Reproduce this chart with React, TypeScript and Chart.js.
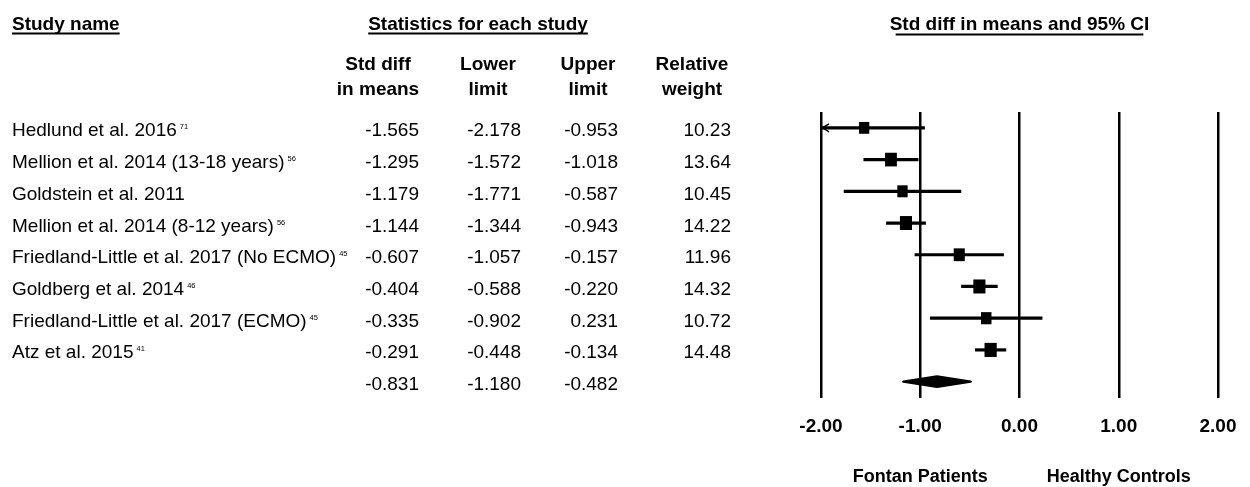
import React, { useEffect, useRef } from "react";
import { Chart, registerables } from "chart.js";

Chart.register(...registerables);

const studies = [
  "Hedlund et al. 2016",
  "Mellion et al. 2014 (13-18 years)",
  "Goldstein et al. 2011",
  "Mellion et al. 2014 (8-12 years)",
  "Friedland-Little et al. 2017 (No ECMO)",
  "Goldberg et al. 2014",
  "Friedland-Little et al. 2017 (ECMO)",
  "Atz et al. 2015",
];
const refs = ["71", "56", "", "56", "45", "46", "45", "41"];
const stdDiff = [-1.565, -1.295, -1.179, -1.144, -0.607, -0.404, -0.335, -0.291];
const lowerLimit = [-2.178, -1.572, -1.771, -1.344, -1.057, -0.588, -0.902, -0.448];
const upperLimit = [-0.953, -1.018, -0.587, -0.943, -0.157, -0.22, 0.231, -0.134];
const relWeight = [10.23, 13.64, 10.45, 14.22, 11.96, 14.32, 10.72, 14.48];
const summaryStats = [-0.831, -1.18, -0.482]; // mean, lower, upper
const xTicks = [-2, -1, 0, 1, 2];
const sideLabels = ["Fontan Patients", "Healthy Controls"];

const FONT = "'Liberation Sans', Arial, sans-serif";

const forestPlugin = {
  id: "forest",
  beforeDatasetsDraw(chart: any) {
    const { ctx } = chart;
    const x = chart.scales.x;
    const y = chart.scales.y;
    ctx.save();
    ctx.strokeStyle = "#000";
    ctx.fillStyle = "#000";
    studies.forEach((_, i) => {
      const py = y.getPixelForValue(i);
      const lo = Math.max(lowerLimit[i], x.min);
      const hi = Math.min(upperLimit[i], x.max);
      const x1 = x.getPixelForValue(lo);
      const x2 = x.getPixelForValue(hi);
      ctx.lineWidth = 3.2;
      ctx.beginPath();
      ctx.moveTo(x1, py);
      ctx.lineTo(x2, py);
      ctx.stroke();
      if (lowerLimit[i] < x.min) {
        ctx.lineWidth = 1.5;
        ctx.beginPath();
        ctx.moveTo(x1 + 8, py - 4);
        ctx.lineTo(x1 + 1.5, py);
        ctx.lineTo(x1 + 8, py + 4);
        ctx.stroke();
      }
    });
    // summary diamond
    const sy = y.getPixelForValue(studies.length);
    const xm = x.getPixelForValue(summaryStats[0]);
    const xl = x.getPixelForValue(summaryStats[1]);
    const xu = x.getPixelForValue(summaryStats[2]);
    ctx.lineWidth = 2.5;
    ctx.lineJoin = "round";
    ctx.beginPath();
    ctx.moveTo(xl + 1, sy);
    ctx.lineTo(xm, sy - 5.2);
    ctx.lineTo(xu - 1, sy);
    ctx.lineTo(xm, sy + 5.2);
    ctx.closePath();
    ctx.fill();
    ctx.stroke();
    ctx.restore();
  },
  afterDatasetsDraw(chart: any) {
    const { ctx } = chart;
    const meta = chart.getDatasetMeta(0);
    ctx.save();
    ctx.fillStyle = "#000";
    meta.data.forEach((pt: any, i: number) => {
      const s = Math.sqrt(relWeight[i]);
      const w = 3.2 * s;
      const h = 3.7 * s;
      ctx.fillRect(pt.x - w / 2, pt.y - h / 2, w, h);
    });
    ctx.restore();
  },
  afterDraw(chart: any) {
    const { ctx } = chart;
    const x = chart.scales.x;
    const y = chart.scales.y;
    ctx.save();
    ctx.fillStyle = "#000";
    ctx.strokeStyle = "#000";
    ctx.textBaseline = "alphabetic";

    // Titles
    ctx.font = `bold 19px ${FONT}`;
    ctx.textAlign = "left";
    ctx.fillText("Study name", 12, 29.5);
    let w = ctx.measureText("Study name").width;
    ctx.lineWidth = 2;
    ctx.beginPath();
    ctx.moveTo(12, 33.5);
    ctx.lineTo(12 + w, 33.5);
    ctx.stroke();

    ctx.textAlign = "center";
    const t2 = "Statistics for each study";
    ctx.fillText(t2, 478, 29.5);
    w = ctx.measureText(t2).width;
    ctx.beginPath();
    ctx.moveTo(478 - w / 2, 33.5);
    ctx.lineTo(478 + w / 2, 33.5);
    ctx.stroke();

    const t3 = "Std diff in means and 95% CI";
    const cx3 = (x.left + x.right) / 2;
    ctx.fillText(t3, cx3, 29.5);
    w = ctx.measureText(t3).width;
    ctx.beginPath();
    ctx.moveTo(cx3 - w / 2 + 6, 34.5);
    ctx.lineTo(cx3 + w / 2 - 6, 34.5);
    ctx.stroke();

    // column headers
    const headers: [string, string, number][] = [
      ["Std diff", "in means", 378],
      ["Lower", "limit", 488],
      ["Upper", "limit", 588],
      ["Relative", "weight", 692],
    ];
    headers.forEach(([a, b, cx]) => {
      ctx.fillText(a, cx, 69.5);
      ctx.fillText(b, cx, 94.5);
    });

    // rows
    const colRight = [419, 521, 618, 731];
    studies.forEach((name, i) => {
      const base = y.getPixelForValue(i) + 8.5;
      ctx.font = `19px ${FONT}`;
      ctx.textAlign = "left";
      ctx.fillText(name, 12, base);
      const nw = ctx.measureText(name).width;
      ctx.textAlign = "right";
      ctx.fillText(stdDiff[i].toFixed(3), colRight[0], base);
      ctx.fillText(lowerLimit[i].toFixed(3), colRight[1], base);
      ctx.fillText(upperLimit[i].toFixed(3), colRight[2], base);
      ctx.fillText(relWeight[i].toFixed(2), colRight[3], base);
      if (refs[i]) {
        ctx.font = `7.5px ${FONT}`;
        ctx.textAlign = "left";
        ctx.fillText(refs[i], 12 + nw + 3, base - 7);
      }
    });
    const sb = y.getPixelForValue(studies.length) + 8.5;
    ctx.font = `19px ${FONT}`;
    ctx.textAlign = "right";
    ctx.fillText(summaryStats[0].toFixed(3), colRight[0], sb);
    ctx.fillText(summaryStats[1].toFixed(3), colRight[1], sb);
    ctx.fillText(summaryStats[2].toFixed(3), colRight[2], sb);

    // favours labels
    ctx.font = `bold 18px ${FONT}`;
    ctx.textAlign = "center";
    ctx.fillText(sideLabels[0], x.getPixelForValue(-1), 481.5);
    ctx.fillText(sideLabels[1], x.getPixelForValue(1), 481.5);
    ctx.restore();
  },
};

export default function App() {
  const ref = useRef<HTMLCanvasElement | null>(null);
  useEffect(() => {
    if (!ref.current) return;
    const chart = new Chart(ref.current, {
      type: "scatter",
      data: {
        datasets: [
          {
            data: stdDiff.map((v, i) => ({ x: v, y: i })),
            backgroundColor: "#000",
            borderColor: "#000",
            borderWidth: 0,
            pointStyle: "rect",
            pointRadius: 0,
            pointHoverRadius: 0,
          },
        ],
      },
      options: {
        responsive: false,
        animation: false,
        events: [],
        layout: { padding: { left: 821, right: 32, top: 112, bottom: 29.5 } },
        plugins: { legend: { display: false }, tooltip: { enabled: false } },
        scales: {
          x: {
            type: "linear",
            min: -2,
            max: 2,
            afterBuildTicks: (s: any) => {
              s.ticks = xTicks.map((v) => ({ value: v }));
            },
            afterFit: (s: any) => {
              s.height = 60;
              s.paddingLeft = 0;
              s.paddingRight = 0;
            },
            grid: { color: "#000", lineWidth: 2.5, drawTicks: false },
            border: { display: false },
            ticks: {
              padding: 17.5,
              color: "#000",
              font: { family: FONT, size: 19, weight: "bold" },
              maxRotation: 0,
              callback: (v: any) => Number(v).toFixed(2),
            },
          },
          y: {
            type: "linear",
            display: false,
            min: -0.5,
            max: 8.5,
            reverse: true,
          },
        },
      },
      plugins: [forestPlugin],
    } as any);
    return () => chart.destroy();
  }, []);
  return (
    <div style={{ position: "absolute", left: 0, top: 0, width: 1250, height: 487, background: "#fff" }}>
      <canvas ref={ref} width={1250} height={487} style={{ display: "block" }} />
    </div>
  );
}
